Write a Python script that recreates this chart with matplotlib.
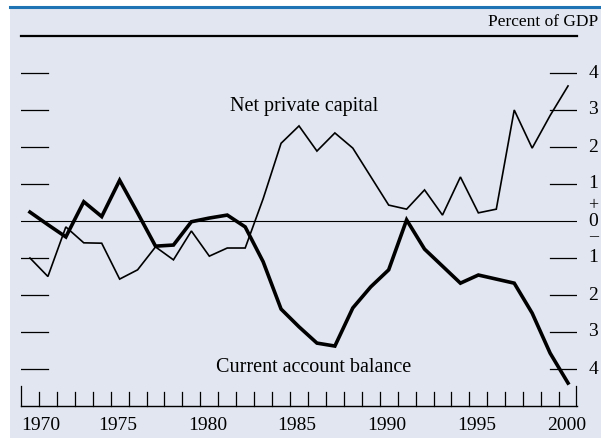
import matplotlib
matplotlib.use("Agg")
import matplotlib.pyplot as plt
from matplotlib.patches import Rectangle
from matplotlib.lines import Line2D

years = list(range(1970, 2001))

# Net private capital inflows, percent of GDP
net_private_capital = [-1.0, -1.5, -0.16, -0.59, -0.6, -1.57, -1.32, -0.7, -1.05, -0.27,
                       -0.95, -0.73, -0.73, 0.6, 2.1, 2.57, 1.89, 2.38, 1.97, 1.2,
                       0.43, 0.32, 0.84, 0.16, 1.19, 0.22, 0.32, 3.0, 1.97, 2.85, 3.65]

# Current account balance, percent of GDP
current_account = [0.24, -0.1, -0.43, 0.52, 0.12, 1.1, 0.22, -0.68, -0.65, -0.02,
                   0.08, 0.16, -0.16, -1.1, -2.38, -2.86, -3.3, -3.38, -2.35, -1.78,
                   -1.32, 0.03, -0.76, -1.22, -1.68, -1.46, -1.57, -1.68, -2.49, -3.57, -4.38]

y_ticks = [-4, -3, -2, -1, 1, 2, 3, 4]
y_labels = ["4", "3", "2", "1", "1", "2", "3", "4"]
x_label_years = [1970, 1975, 1980, 1985, 1990, 1995, 2000]

plt.rcParams['font.family'] = ['Liberation Serif', 'DejaVu Serif']

W, H = 601, 438
fig = plt.figure(figsize=(W / 100, H / 100), dpi=100)

# panel background and blue rule at the top
fig.patches.append(Rectangle((10 / W, 0), (W - 10) / W, (H - 7) / H,
                             transform=fig.transFigure, facecolor='#e1e6f0',
                             edgecolor='none', zorder=-10))
fig.lines.append(Line2D([10 / W, 1], [(H - 7) / H, (H - 7) / H],
                        transform=fig.transFigure, color='#1f74b4', lw=2.2, zorder=-5))

ax = fig.add_axes([21 / W, (H - 406) / H, 556 / W, 370 / H])
ax.set_zorder(1)
ax.set_facecolor('none')
ax.set_xlim(1969.5, 2000.5)
ax.set_ylim(-5, 5)
for s in ['top', 'right', 'left']:
    ax.spines[s].set_visible(False)
ax.spines['bottom'].set_linewidth(1.0)
ax.set_xticks([])
ax.set_yticks([])

# top rule and zero line
ax.axhline(5, color='black', lw=1.6, clip_on=False)
ax.axhline(0, color='black', lw=0.8)

# year tick marks along the bottom
edges = [y - 0.5 for y in years] + [2000.45]
for i, e in enumerate(edges):
    top = -4.45 if i in (0, len(edges) - 1) else -4.62
    ax.plot([e, e], [-5, top], color='black', lw=0.9, clip_on=False)

# short horizontal ticks on both sides
for v in y_ticks:
    ax.plot([1969.5, 1971.0], [v, v], color='black', lw=0.9)
    ax.plot([1999.0, 2000.45], [v, v], color='black', lw=0.9)

ax.plot(years, net_private_capital, color='black', lw=1.2, solid_joinstyle='miter')
ax.plot(years, current_account, color='black', lw=2.6, solid_joinstyle='miter')

# right-hand labels
for v, lab in zip(y_ticks, y_labels):
    ax.text(2001.4, v, lab, fontsize=14, ha='center', va='center', clip_on=False)
ax.text(2001.4, 0, "0", fontsize=14, ha='center', va='center', clip_on=False)
ax.text(2001.4, 0.42, "+", fontsize=13, ha='center', va='center', clip_on=False)
ax.text(2001.4, -0.42, "\u2013", fontsize=13, ha='center', va='center', clip_on=False)

for yr in x_label_years:
    xpos = yr + 0.6 if yr == 1970 else yr - 0.1
    ax.text(xpos, -5.3, str(yr), fontsize=14, ha='center', va='top', clip_on=False)

ax.text(1985.3, 3.1, "Net private capital", fontsize=14.5, ha='center', va='center')
ax.text(1985.8, -3.95, "Current account balance", fontsize=14.5, ha='center', va='center')
fig.text(598 / W, (H - 22) / H, "Percent of GDP", fontsize=12.5, ha='right', va='center')

fig.savefig("out.png", dpi=100)
